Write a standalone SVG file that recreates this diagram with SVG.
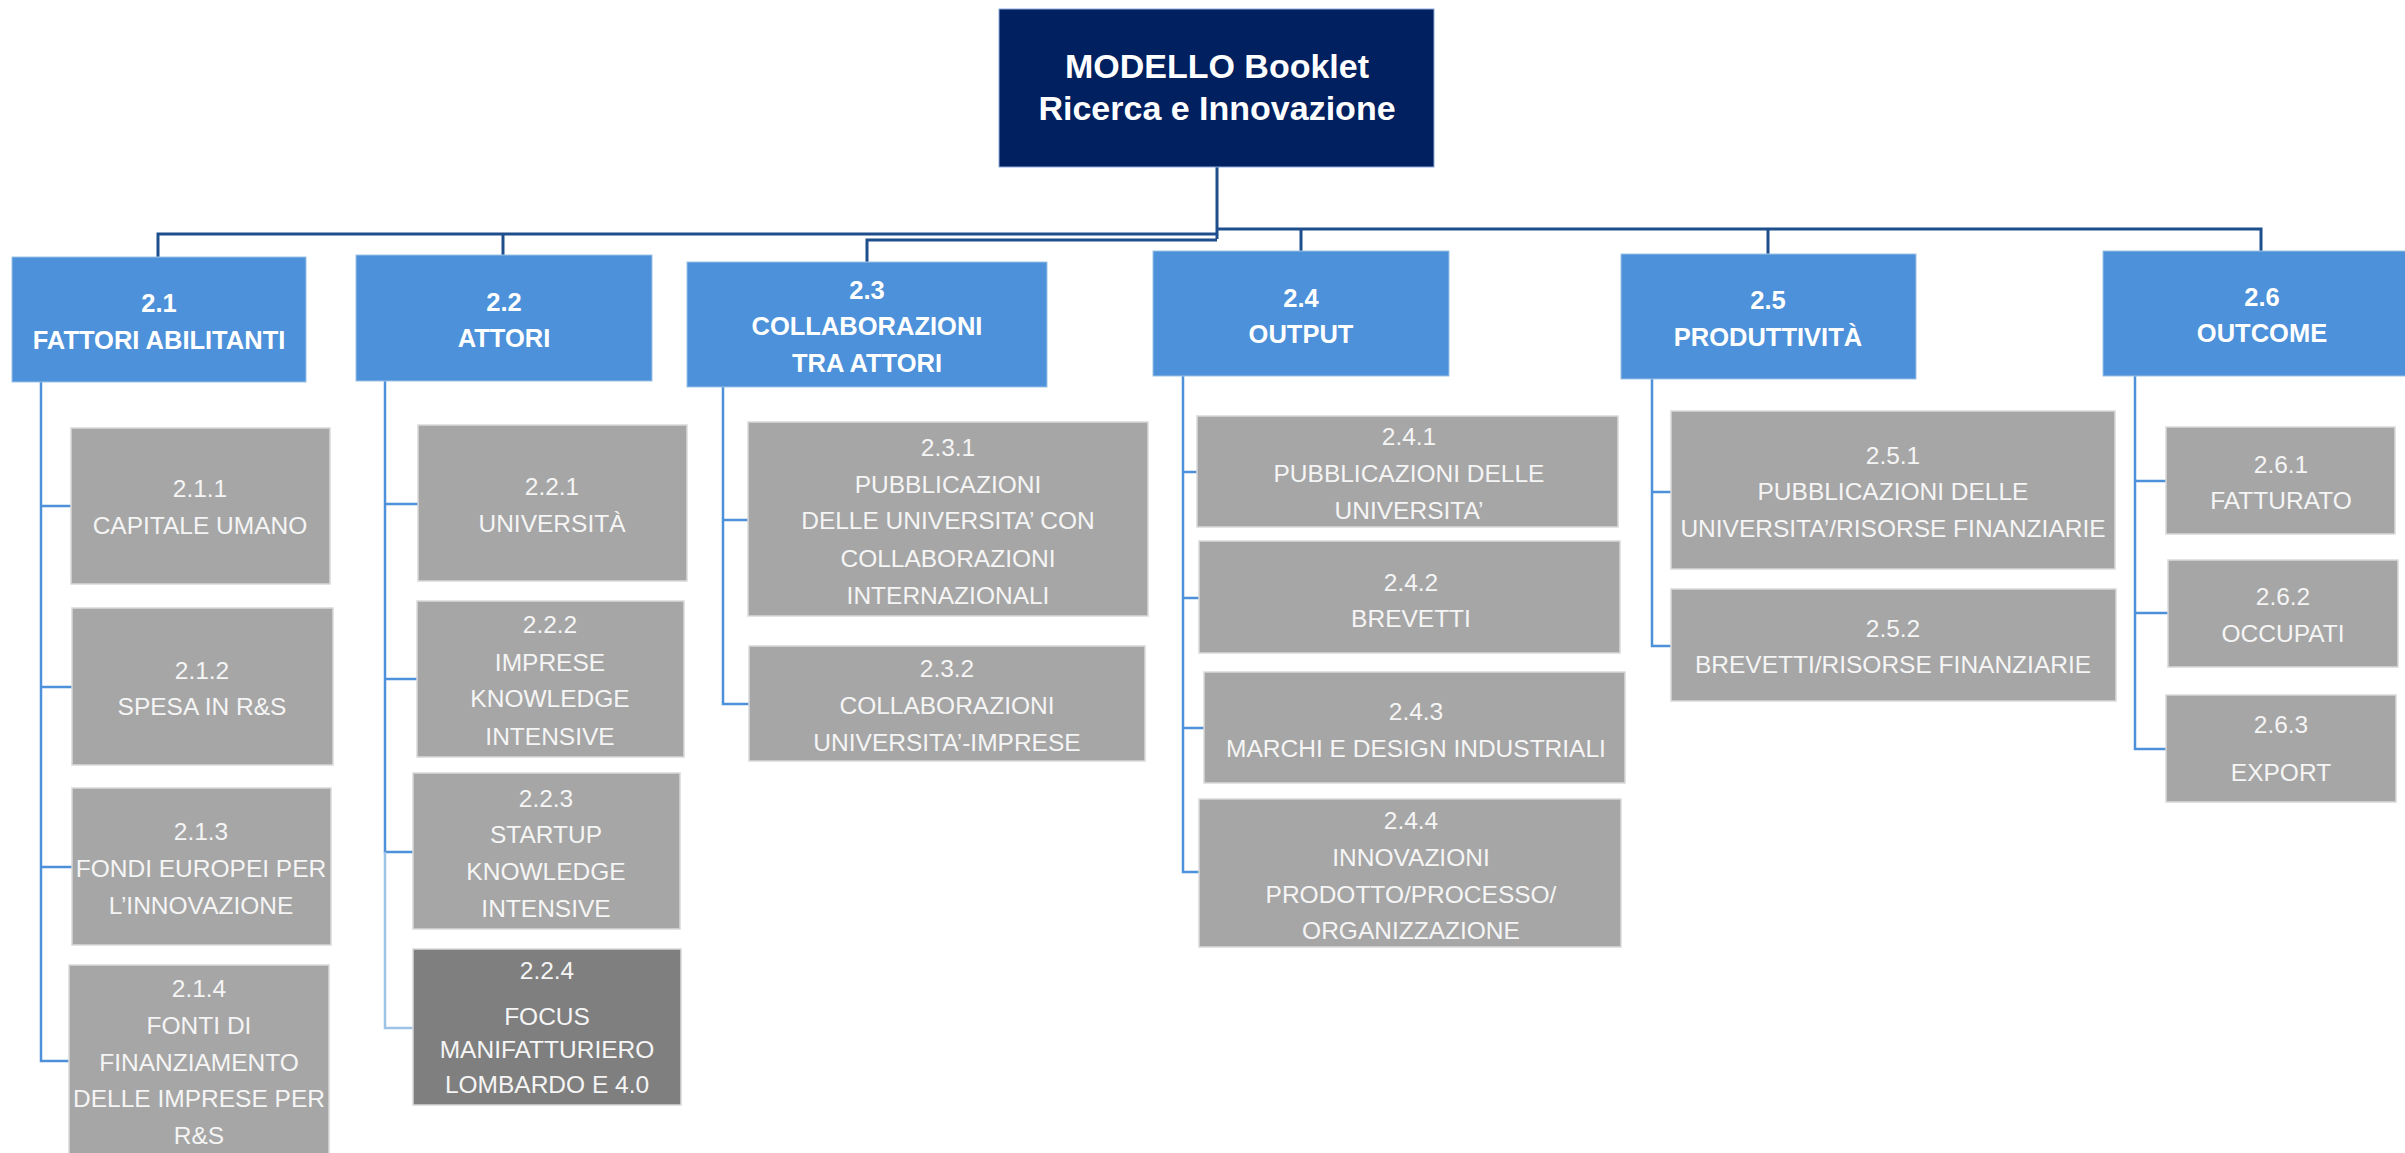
<svg xmlns="http://www.w3.org/2000/svg" width="2405" height="1153" viewBox="0 0 2405 1153">
<style>
.root{fill:#002060;stroke:#8FAADC;stroke-width:1}
.l1{fill:#4C91D9;stroke:#9DC3E6;stroke-width:1}
.g{fill:#A6A6A6;stroke:#D9D9D9;stroke-width:1.5}
.gd{fill:#7F7F7F;stroke:#D9D9D9;stroke-width:1.5}
.tr{font-family:"Liberation Sans",Arial,sans-serif;font-weight:bold;font-size:34px;fill:#fff;text-anchor:middle}
.t1{font-family:"Liberation Sans",Arial,sans-serif;font-weight:bold;font-size:25.5px;fill:#fff;text-anchor:middle}
.tg{font-family:"Liberation Sans",Arial,sans-serif;font-size:24.5px;fill:#F5F5F5;text-anchor:middle}
.bus{fill:none;stroke:#1F4E8C;stroke-width:3}
.c{fill:none;stroke:#4C91D9;stroke-width:2.5}
.cl{fill:none;stroke:#9DC3E6;stroke-width:2.5}
</style>
<g id="connectors">
<path class="bus" d="M1217 167 V239"/>
<path class="bus" d="M1217 234 H158 V257"/>
<path class="bus" d="M503 234 V255"/>
<path class="bus" d="M1217 240 H867 V262"/>
<path class="bus" d="M1217 229 H2261 V251"/>
<path class="bus" d="M1301 229 V251"/>
<path class="bus" d="M1768 229 V254"/>
<path class="c" d="M41 382 V1061 H69 M41 506 H71 M41 687 H72 M41 867 H72"/>
<path class="c" d="M385 381 V852 H413 M385 504 H418 M385 679 H417"/>
<path class="cl" d="M385 852 V1028 H413"/>
<path class="c" d="M723 387 V704 H749 M723 520 H748"/>
<path class="c" d="M1183 376 V872 H1199 M1183 472 H1197 M1183 598 H1199 M1183 728 H1204"/>
<path class="c" d="M1652 379 V646 H1671 M1652 492 H1671"/>
<path class="c" d="M2135 376 V749 H2166 M2135 481 H2166 M2135 613 H2168"/>
</g>
<g id="root">
<rect class="root" x="999" y="9" width="435" height="158"/>
<text class="tr" x="1217" y="78">MODELLO Booklet</text>
<text class="tr" x="1217" y="120">Ricerca e Innovazione</text>
</g>
<g id="n2-1">
<rect class="l1" x="12" y="257" width="294" height="125"/>
<text class="t1" x="159" y="312">2.1</text>
<text class="t1" x="159" y="349">FATTORI ABILITANTI</text>
</g>
<g id="n2-2">
<rect class="l1" x="356" y="255" width="296" height="126"/>
<text class="t1" x="504" y="311">2.2</text>
<text class="t1" x="504" y="347">ATTORI</text>
</g>
<g id="n2-3">
<rect class="l1" x="687" y="262" width="360" height="125"/>
<text class="t1" x="867" y="299">2.3</text>
<text class="t1" x="867" y="335">COLLABORAZIONI</text>
<text class="t1" x="867" y="372">TRA ATTORI</text>
</g>
<g id="n2-4">
<rect class="l1" x="1153" y="251" width="296" height="125"/>
<text class="t1" x="1301" y="307">2.4</text>
<text class="t1" x="1301" y="343">OUTPUT</text>
</g>
<g id="n2-5">
<rect class="l1" x="1621" y="254" width="295" height="125"/>
<text class="t1" x="1768" y="309">2.5</text>
<text class="t1" x="1768" y="346">PRODUTTIVITÀ</text>
</g>
<g id="n2-6">
<rect class="l1" x="2103" y="251" width="310" height="125"/>
<text class="t1" x="2262" y="306">2.6</text>
<text class="t1" x="2262" y="342">OUTCOME</text>
</g>
<g id="n2-1-1">
<rect class="g" x="71" y="428" width="259" height="156"/>
<text class="tg" x="200" y="497">2.1.1</text>
<text class="tg" x="200" y="534">CAPITALE UMANO</text>
</g>
<g id="n2-1-2">
<rect class="g" x="72" y="608" width="261" height="157"/>
<text class="tg" x="202" y="679">2.1.2</text>
<text class="tg" x="202" y="715">SPESA IN R&amp;S</text>
</g>
<g id="n2-1-3">
<rect class="g" x="72" y="788" width="259" height="157"/>
<text class="tg" x="201" y="840">2.1.3</text>
<text class="tg" x="201" y="877">FONDI EUROPEI PER</text>
<text class="tg" x="201" y="914">L’INNOVAZIONE</text>
</g>
<g id="n2-1-4">
<rect class="g" x="69" y="965" width="260" height="200"/>
<text class="tg" x="199" y="997">2.1.4</text>
<text class="tg" x="199" y="1034">FONTI DI</text>
<text class="tg" x="199" y="1071">FINANZIAMENTO</text>
<text class="tg" x="199" y="1107">DELLE IMPRESE PER</text>
<text class="tg" x="199" y="1144">R&amp;S</text>
</g>
<g id="n2-2-1">
<rect class="g" x="418" y="425" width="269" height="156"/>
<text class="tg" x="552" y="495">2.2.1</text>
<text class="tg" x="552" y="532">UNIVERSITÀ</text>
</g>
<g id="n2-2-2">
<rect class="g" x="417" y="601" width="267" height="156"/>
<text class="tg" x="550" y="633">2.2.2</text>
<text class="tg" x="550" y="671">IMPRESE</text>
<text class="tg" x="550" y="707">KNOWLEDGE</text>
<text class="tg" x="550" y="745">INTENSIVE</text>
</g>
<g id="n2-2-3">
<rect class="g" x="413" y="773" width="267" height="156"/>
<text class="tg" x="546" y="807">2.2.3</text>
<text class="tg" x="546" y="843">STARTUP</text>
<text class="tg" x="546" y="880">KNOWLEDGE</text>
<text class="tg" x="546" y="917">INTENSIVE</text>
</g>
<g id="n2-2-4">
<rect class="gd" x="413" y="949" width="268" height="156"/>
<text class="tg" x="547" y="979">2.2.4</text>
<text class="tg" x="547" y="1025">FOCUS</text>
<text class="tg" x="547" y="1058">MANIFATTURIERO</text>
<text class="tg" x="547" y="1093">LOMBARDO E 4.0</text>
</g>
<g id="n2-3-1">
<rect class="g" x="748" y="422" width="400" height="194"/>
<text class="tg" x="948" y="456">2.3.1</text>
<text class="tg" x="948" y="493">PUBBLICAZIONI</text>
<text class="tg" x="948" y="529">DELLE UNIVERSITA’ CON</text>
<text class="tg" x="948" y="567">COLLABORAZIONI</text>
<text class="tg" x="948" y="604">INTERNAZIONALI</text>
</g>
<g id="n2-3-2">
<rect class="g" x="749" y="646" width="396" height="115"/>
<text class="tg" x="947" y="677">2.3.2</text>
<text class="tg" x="947" y="714">COLLABORAZIONI</text>
<text class="tg" x="947" y="751">UNIVERSITA’-IMPRESE</text>
</g>
<g id="n2-4-1">
<rect class="g" x="1197" y="416" width="421" height="111"/>
<text class="tg" x="1409" y="445">2.4.1</text>
<text class="tg" x="1409" y="482">PUBBLICAZIONI DELLE</text>
<text class="tg" x="1409" y="519">UNIVERSITA’</text>
</g>
<g id="n2-4-2">
<rect class="g" x="1199" y="541" width="421" height="112"/>
<text class="tg" x="1411" y="591">2.4.2</text>
<text class="tg" x="1411" y="627">BREVETTI</text>
</g>
<g id="n2-4-3">
<rect class="g" x="1204" y="672" width="421" height="111"/>
<text class="tg" x="1416" y="720">2.4.3</text>
<text class="tg" x="1416" y="757">MARCHI E DESIGN INDUSTRIALI</text>
</g>
<g id="n2-4-4">
<rect class="g" x="1199" y="799" width="422" height="148"/>
<text class="tg" x="1411" y="829">2.4.4</text>
<text class="tg" x="1411" y="866">INNOVAZIONI</text>
<text class="tg" x="1411" y="903">PRODOTTO/PROCESSO/</text>
<text class="tg" x="1411" y="939">ORGANIZZAZIONE</text>
</g>
<g id="n2-5-1">
<rect class="g" x="1671" y="411" width="444" height="158"/>
<text class="tg" x="1893" y="464">2.5.1</text>
<text class="tg" x="1893" y="500">PUBBLICAZIONI DELLE</text>
<text class="tg" x="1893" y="537">UNIVERSITA’/RISORSE FINANZIARIE</text>
</g>
<g id="n2-5-2">
<rect class="g" x="1671" y="589" width="445" height="112"/>
<text class="tg" x="1893" y="637">2.5.2</text>
<text class="tg" x="1893" y="673">BREVETTI/RISORSE FINANZIARIE</text>
</g>
<g id="n2-6-1">
<rect class="g" x="2166" y="427" width="229" height="107"/>
<text class="tg" x="2281" y="473">2.6.1</text>
<text class="tg" x="2281" y="509">FATTURATO</text>
</g>
<g id="n2-6-2">
<rect class="g" x="2168" y="560" width="230" height="107"/>
<text class="tg" x="2283" y="605">2.6.2</text>
<text class="tg" x="2283" y="642">OCCUPATI</text>
</g>
<g id="n2-6-3">
<rect class="g" x="2166" y="695" width="230" height="107"/>
<text class="tg" x="2281" y="733">2.6.3</text>
<text class="tg" x="2281" y="781">EXPORT</text>
</g>
</svg>
